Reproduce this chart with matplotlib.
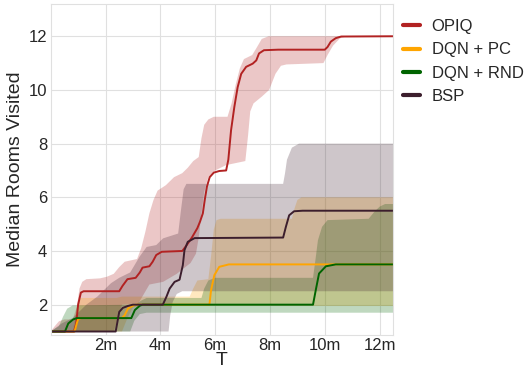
import matplotlib
matplotlib.use("Agg")
import matplotlib.pyplot as plt
import seaborn as sns
import numpy as np

sns.set_style("whitegrid")
plt.rcParams['font.family'] = ['Liberation Sans', 'DejaVu Sans']

# ---------------- data (T in millions) ----------------
methods = ["OPIQ", "DQN + PC", "DQN + RND", "BSP"]
colors = ["#b22222", "#ffa500", "#006400", "#3c1e2d"]

# OPIQ median
opiq_x = [0, 0.85, 0.93, 1.0, 1.1, 1.2, 2.5, 2.62, 2.8, 3.1, 3.25, 3.35, 3.6, 3.72, 3.85, 4.05,
          4.8, 4.95, 5.15, 5.35, 5.45, 5.55, 5.62, 5.7, 5.8, 5.95, 6.15, 6.4, 6.48, 6.58, 6.7,
          6.82, 6.95, 7.13, 7.37, 7.5, 7.6, 7.78, 8.3, 10.0, 10.1, 10.22, 10.4, 10.6, 12.5]
opiq_y = [1, 1, 1.3, 2.0, 2.45, 2.5, 2.5, 2.7, 2.95, 3.0, 3.2, 3.38, 3.43, 3.6, 3.85, 3.97,
          4.0, 4.2, 4.5, 4.85, 5.1, 5.4, 5.9, 6.4, 6.75, 6.92, 6.98, 7.0, 7.4, 8.5, 9.37,
          10.1, 10.6, 10.86, 10.98, 11.1, 11.36, 11.48, 11.5, 11.5, 11.6, 11.8, 11.93, 11.99, 12.0]
opiq_up_x = [0, 0.15, 0.3, 0.5, 0.8, 0.95, 1.05, 1.15, 1.3, 1.8, 2.05, 2.3, 2.5, 2.7, 3.15, 3.3,
             3.45, 3.6, 3.75, 3.9, 4.2, 4.5, 4.8, 5.0, 5.2, 5.4, 5.5, 5.6, 5.75, 5.95, 6.45,
             6.6, 6.75, 6.9, 7.05, 7.35, 7.5, 7.7, 7.95, 12.5]
opiq_up_y = [1.0, 1.2, 1.38, 1.45, 1.45, 1.9, 2.6, 2.85, 2.95, 2.98, 3.04, 3.15, 3.4, 3.6, 3.7, 4.1,
             4.7, 5.4, 5.9, 6.25, 6.45, 6.75, 6.9, 7.1, 7.35, 7.5, 8.2, 8.7, 8.9, 9.0, 9.0,
             9.5, 10.2, 10.8, 11.15, 11.3, 11.55, 11.9, 12.0, 12.0]
opiq_lo_x = [0, 2.3, 2.45, 2.6, 3.2, 3.4, 3.6, 4.1, 4.35, 4.6, 4.85, 5.1, 5.3, 5.4, 5.5, 5.6,
             5.75, 6.0, 6.4, 7.1, 7.2, 7.28, 7.4, 7.7, 7.97, 8.2, 8.4, 8.6, 9.95, 10.1, 10.3,
             10.55, 10.8, 12.5]
opiq_lo_y = [1, 1.0, 1.5, 2.0, 2.05, 2.4, 2.75, 2.85, 3.0, 3.15, 3.35, 3.55, 3.9, 4.5, 5.4, 6.2,
             6.75, 7.0, 7.2, 7.35, 8.3, 9.2, 9.5, 9.75, 10.0, 10.6, 10.9, 10.95, 11.0, 11.3, 11.65,
             11.92, 12.0, 12.0]

# DQN + PC median
pc_x = [0, 0.87, 0.95, 1.0, 1.1, 2.6, 2.7, 2.82, 3.0, 3.1, 5.79, 5.85, 5.97, 6.15, 6.5, 12.5]
pc_y = [1, 1, 1.3, 1.46, 1.5, 1.5, 1.61, 1.86, 1.96, 2.0, 2.0, 2.54, 3.1, 3.41, 3.5, 3.5]
pc_up_x = [0, 0.8, 0.9, 1.0, 1.1, 2.4, 2.6, 5.07, 5.2, 5.35, 5.75, 5.85, 5.95, 6.05, 6.2,
           8.8, 8.9, 9.0, 9.15, 12.5]
pc_up_y = [1.0, 1.0, 1.6, 2.1, 2.25, 2.25, 2.3, 2.3, 2.6, 2.9, 2.95, 3.8, 4.8, 5.15, 5.2,
           5.2, 5.6, 5.9, 6.0, 6.0]
pc_lo_x = [0, 2.6, 2.8, 3.0, 3.2, 12.5]
pc_lo_y = [1, 1.0, 1.5, 1.9, 1.95, 1.95]

# DQN + RND median
rnd_x = [0, 0.52, 0.64, 0.82, 0.95, 2.94, 3.07, 3.25, 3.35, 9.57, 9.67, 9.79, 10.04, 10.4, 12.5]
rnd_y = [1, 1, 1.3, 1.45, 1.5, 1.5, 1.8, 1.96, 2.0, 2.0, 2.54, 3.16, 3.43, 3.5, 3.5]
rnd_up_x = [0, 0.3, 0.45, 0.6, 0.8, 3.1, 3.3, 3.5, 5.5, 5.6, 5.75, 6.0, 9.57, 9.65, 9.75,
            9.9, 10.1, 11.6, 11.8, 12.0, 12.2, 12.5]
rnd_up_y = [1.0, 1.2, 1.55, 1.85, 1.97, 2.0, 2.15, 2.25, 2.25, 2.6, 2.9, 3.0, 3.0, 3.6, 4.4,
            4.9, 5.15, 5.2, 5.45, 5.65, 5.75, 5.75]
rnd_lo_x = [0, 2.9, 3.05, 3.25, 3.5, 12.5]
rnd_lo_y = [1, 1.0, 1.4, 1.65, 1.7, 1.7]

# BSP median
bsp_x = [0, 2.37, 2.5, 2.63, 2.81, 3.0, 4.09, 4.22, 4.34, 4.52, 4.7, 4.82, 4.88, 5.0, 5.25,
         8.48, 8.58, 8.7, 8.88, 9.19, 12.5]
bsp_y = [1, 1, 1.73, 1.88, 1.95, 2.0, 2.0, 2.29, 2.6, 2.85, 2.93, 3.47, 4.03, 4.34, 4.48,
         4.5, 4.9, 5.33, 5.48, 5.5, 5.5]
bsp_up_x = [0, 0.4, 0.8, 1.3, 1.7, 2.2, 2.5, 2.9, 3.25, 3.5, 3.85, 4.1, 4.65, 4.75, 4.85,
            4.95, 8.48, 8.55, 8.62, 8.8, 9.06, 12.5]
bsp_up_y = [1, 1.3, 1.5, 2.0, 2.3, 2.8, 3.0, 3.2, 3.8, 4.15, 4.22, 4.47, 4.65, 5.5, 6.3,
            6.5, 6.5, 6.9, 7.4, 7.85, 8.0, 8.0]
bsp_lo_x = [0, 4.3, 4.36, 4.45, 4.6, 4.8, 12.5]
bsp_lo_y = [1, 1.0, 1.6, 2.1, 2.4, 2.5, 2.5]

xticks = [2, 4, 6, 8, 10, 12]
xtick_labels = ["2m", "4m", "6m", "8m", "10m", "12m"]
yticks = [2, 4, 6, 8, 10, 12]

# ---------------- plot ----------------
fig = plt.figure(figsize=(5.24, 3.68), dpi=100)
ax = fig.add_axes([0.0968, 0.0897, 0.6538, 0.8993])

series = [
    (opiq_x, opiq_y, opiq_up_x, opiq_up_y, opiq_lo_x, opiq_lo_y),
    (pc_x, pc_y, pc_up_x, pc_up_y, pc_lo_x, pc_lo_y),
    (rnd_x, rnd_y, rnd_up_x, rnd_up_y, rnd_lo_x, rnd_lo_y),
    (bsp_x, bsp_y, bsp_up_x, bsp_up_y, bsp_lo_x, bsp_lo_y),
]

for (mx, my, ux, uy, lx, ly), c in zip(series, colors):
    px = np.r_[ux, lx[::-1]]
    py = np.r_[uy, ly[::-1]]
    ax.fill(px, py, color=c, alpha=0.25, lw=0)

for (mx, my, *_), c, name in zip(series, colors, methods):
    ax.plot(mx, my, color=c, lw=1.4, label=name)

ax.set_xlim(0, 12.5)
ax.set_ylim(0.87, 13.2)
ax.set_xticks(xticks)
ax.set_xticklabels(xtick_labels)
ax.set_yticks(yticks)
ax.tick_params(labelsize=12, pad=2.5, length=0, colors="#262626")
ax.set_xlabel("T", fontsize=14, labelpad=-1.0, color="#262626")
ax.set_ylabel("Median Rooms Visited", fontsize=14, labelpad=3, color="#262626")
ax.grid(color="#e0e0e0", lw=0.8)
for s in ax.spines.values():
    s.set_color("#e0e0e0")

leg = ax.legend(loc="upper left", bbox_to_anchor=(1.0, 0.985), fontsize=12, frameon=False,
                labelspacing=0.5, handlelength=1.0, handletextpad=0.7, borderaxespad=0.2)
for h in leg.get_lines():
    h.set_linewidth(3)

fig.savefig("out.png", dpi=100)
